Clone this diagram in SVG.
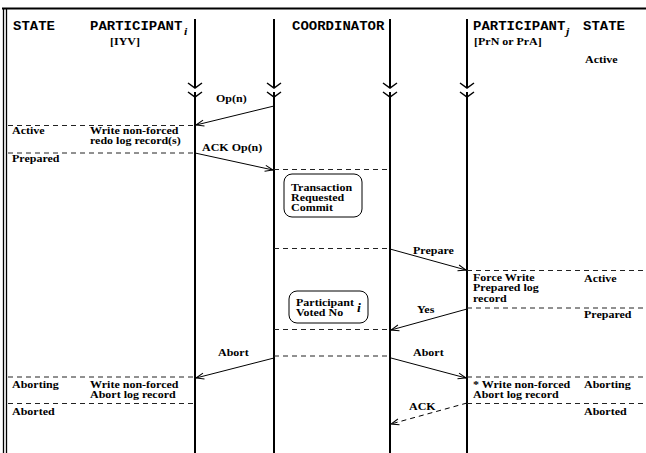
<svg xmlns="http://www.w3.org/2000/svg" width="646" height="453" viewBox="0 0 646 453">
<style>
.t{font-family:"Liberation Serif","Times New Roman",serif;font-weight:bold;font-size:12px;fill:#000}
.m{font-family:"Liberation Mono","Courier New",monospace;font-weight:bold;font-size:14px;fill:#000}
.it{font-family:"Liberation Serif","Times New Roman",serif;font-style:italic;font-weight:bold;fill:#000}
.life{stroke:#000;stroke-width:2;fill:none}
.chev{stroke:#000;stroke-width:1.5;fill:none}
.dash{stroke:#222;stroke-width:1;stroke-dasharray:5 4;fill:none}
.msg{stroke:#000;stroke-width:1;fill:none;marker-end:url(#ah)}
.msgd{stroke:#000;stroke-width:1;fill:none;stroke-dasharray:5 4;marker-end:url(#ah)}
.box{fill:#fff;stroke:#000;stroke-width:1}
</style>
<defs>
<marker id="ah" markerWidth="10" markerHeight="8" refX="9" refY="4" orient="auto" markerUnits="userSpaceOnUse">
<path d="M1,1 L9,4 L1,7" fill="none" stroke="#000" stroke-width="1"/>
</marker>
</defs>
<rect width="646" height="453" fill="#fff"/>
<g id="frame">
<line x1="2" y1="8.5" x2="646" y2="8.5" stroke="#000" stroke-width="2"/>
<line x1="3.5" y1="8" x2="3.5" y2="453" stroke="#000" stroke-width="1.3"/>
<line x1="6.5" y1="8" x2="6.5" y2="453" stroke="#000" stroke-width="1.3"/>
</g>
<g id="headers">
<text class="m" transform="translate(13,30) scale(1,.85)">STATE</text>
<text class="m" transform="translate(90,30) scale(1,.85)">PARTICIPANT</text>
<text class="it" font-size="12" transform="translate(184,35) scale(1,.85)">i</text>
<text class="t" transform="translate(110,45) scale(1,.85)">[IYV]</text>
<text class="m" transform="translate(292,30) scale(1,.85)">COORDINATOR</text>
<text class="m" transform="translate(473,30) scale(1,.85)">PARTICIPANT</text>
<text class="it" font-size="12" transform="translate(566,35) scale(1,.85)">j</text>
<text class="t" transform="translate(474,45) scale(1,.85)">[PrN or PrA]</text>
<text class="m" transform="translate(583,30) scale(1,.85)">STATE</text>
</g>
<g id="lifelines">
<g id="lifeline-participant-i">
<path class="life" d="M195,19 V88 M195,92 V453"/>
<path class="chev" d="M188,83 L195,88 L202,83 M188,92 L195,97 L202,92"/>
</g>
<g id="lifeline-coordinator-left">
<path class="life" d="M274,19 V88 M274,92 V453"/>
<path class="chev" d="M267,83 L274,88 L281,83 M267,92 L274,97 L281,92"/>
</g>
<g id="lifeline-coordinator-right">
<path class="life" d="M390,19 V88 M390,92 V453"/>
<path class="chev" d="M383,83 L390,88 L397,83 M383,92 L390,97 L397,92"/>
</g>
<g id="lifeline-participant-j">
<path class="life" d="M467,19 V88 M467,92 V453"/>
<path class="chev" d="M460,83 L467,88 L474,83 M460,92 L467,97 L474,92"/>
</g>
</g>
<g id="state-dividers">
<line class="dash" x1="8" y1="125.5" x2="195" y2="125.5"/>
<line class="dash" x1="8" y1="153" x2="195" y2="153"/>
<line class="dash" x1="274" y1="169.5" x2="390" y2="169.5"/>
<line class="dash" x1="274" y1="248.5" x2="390" y2="248.5"/>
<line class="dash" x1="467" y1="270.5" x2="646" y2="270.5"/>
<line class="dash" x1="467" y1="308" x2="646" y2="308"/>
<line class="dash" x1="274" y1="329.5" x2="390" y2="329.5"/>
<line class="dash" x1="274" y1="356" x2="390" y2="356"/>
<line class="dash" x1="8" y1="377" x2="195" y2="377"/>
<line class="dash" x1="467" y1="377" x2="646" y2="377"/>
<line class="dash" x1="8" y1="403.5" x2="195" y2="403.5"/>
<line class="dash" x1="467" y1="403.5" x2="646" y2="403.5"/>
</g>
<g id="connectors">
<line class="msg" x1="274" y1="106" x2="196" y2="125"/>
<line class="msg" x1="195" y1="153" x2="273" y2="170"/>
<line class="msg" x1="390" y1="249" x2="466" y2="270"/>
<line class="msg" x1="467" y1="309" x2="391" y2="330"/>
<line class="msg" x1="274" y1="358" x2="196" y2="378"/>
<line class="msg" x1="391" y1="358" x2="466" y2="378"/>
<line class="msgd" x1="467" y1="403" x2="391" y2="424"/>
</g>
<g id="message-labels">
<text class="t" transform="translate(216,102) scale(1,.85)">Op(n)</text>
<text class="t" transform="translate(202,151) scale(1,.85)">ACK Op(n)</text>
<text class="t" transform="translate(413,254) scale(1,.85)">Prepare</text>
<text class="t" transform="translate(417,313) scale(1,.85)">Yes</text>
<text class="t" transform="translate(218,356) scale(1,.85)">Abort</text>
<text class="t" transform="translate(413,356) scale(1,.85)">Abort</text>
<text class="t" transform="translate(409,410) scale(1,.85)">ACK</text>
</g>
<g id="left-states">
<text class="t" transform="translate(12,134) scale(1,.85)">Active</text>
<text class="t" transform="translate(90,134) scale(1,.85)"><tspan x="0">Write non-forced</tspan><tspan x="0" dy="12.3">redo log record(s)</tspan></text>
<text class="t" transform="translate(12,162) scale(1,.85)">Prepared</text>
<text class="t" transform="translate(12,388) scale(1,.85)">Aborting</text>
<text class="t" transform="translate(90,388) scale(1,.85)"><tspan x="0">Write non-forced</tspan><tspan x="0" dy="12.3">Abort log record</tspan></text>
<text class="t" transform="translate(12,415) scale(1,.85)">Aborted</text>
</g>
<g id="right-states">
<text class="t" transform="translate(585,63) scale(1,.85)">Active</text>
<text class="t" transform="translate(473,281) scale(1,.85)"><tspan x="0">Force Write</tspan><tspan x="0" dy="12.3">Prepared log</tspan><tspan x="0" dy="12.3">record</tspan></text>
<text class="t" transform="translate(584,282) scale(1,.85)">Active</text>
<text class="t" transform="translate(584,318) scale(1,.85)">Prepared</text>
<text class="t" transform="translate(473,388) scale(1,.85)"><tspan x="0">* Write non-forced</tspan><tspan x="0" dy="12.3">Abort log record</tspan></text>
<text class="t" transform="translate(584,388) scale(1,.85)">Aborting</text>
<text class="t" transform="translate(584,415) scale(1,.85)">Aborted</text>
</g>
<g id="node-transaction-requested-commit">
<rect class="box" x="284" y="174" width="78" height="43" rx="8"/>
<text class="t" transform="translate(291,191) scale(1,.85)"><tspan x="0">Transaction</tspan><tspan x="0" dy="11.7">Requested</tspan><tspan x="0" dy="11.7">Commit</tspan></text>
</g>
<g id="node-participant-voted-no">
<rect class="box" x="289" y="291" width="79" height="32" rx="8"/>
<text class="t" transform="translate(296,306) scale(1,.85)"><tspan x="0">Participant</tspan><tspan x="0" dy="12.3">Voted No</tspan></text>
<text class="it" font-size="14" transform="translate(357,312) scale(1,.85)">i</text>
</g>
</svg>
